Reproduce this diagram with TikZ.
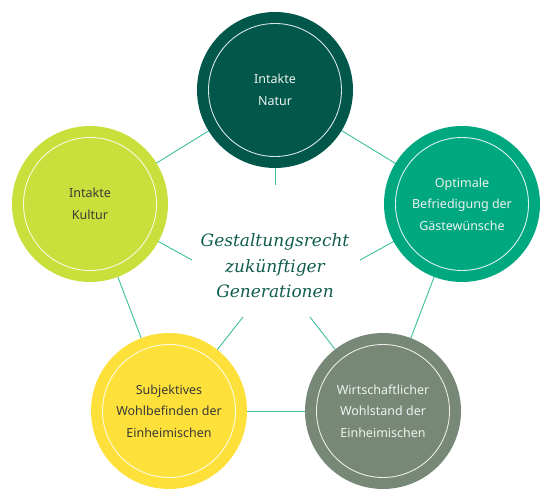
\documentclass[tikz,border=0pt]{standalone}
\usepackage{fontspec}
\setmainfont{Noto Sans}
\newfontfamily\centerfont{DejaVu Serif}
\pgfdeclarelayer{background}
\pgfsetlayers{background,main}
\definecolor{topc}{HTML}{00574A}
\definecolor{rightc}{HTML}{00A880}
\definecolor{leftc}{HTML}{C9E03C}
\definecolor{yellowc}{HTML}{FDE13A}
\definecolor{grayc}{HTML}{778877}
\definecolor{linec}{HTML}{3DBF9F}
\definecolor{centerc}{HTML}{0F5C4D}
\definecolor{darktext}{HTML}{3A3A36}
\definecolor{lighttext}{HTML}{EEF2EF}
\tikzset{
  bubble/.style={circle, minimum size=156pt, inner sep=0pt, align=center,
    font=\fontsize{12.5}{21.5}\selectfont},
  ring/.style={draw=white, draw opacity=0.85, line width=0.9pt},
  link/.style={draw=linec, line width=0.9pt},
}
\begin{document}
\begin{tikzpicture}[x=1pt,y=-1pt]
\useasboundingbox (0,0) rectangle (552,502);
\node[bubble, fill=topc, text=lighttext] (top) at (275,90) {Intakte\\Natur};
\node[bubble, fill=rightc, text=lighttext] (right) at (462,204) {Optimale\\Befriedigung der\\Gästewünsche};
\node[bubble, fill=leftc, text=darktext] (left) at (90,204) {Intakte\\Kultur};
\node[bubble, fill=yellowc, text=darktext] (yellow) at (169,411) {Subjektives\\Wohlbefinden der\\Einheimischen};
\node[bubble, fill=grayc, text=lighttext] (gray) at (383,411) {Wirtschaftlicher\\Wohlstand der\\Einheimischen};
\foreach \n in {top,right,left,yellow,gray}{
  \draw[ring] (\n.center) circle (66.5);
}
\node[text=centerc, align=center, font=\centerfont\itshape\fontsize{17}{25.5}\selectfont] (mid) at (275,266) {Gestaltungsrecht\\zukünftiger\\Generationen};
\coordinate (sT) at (275,185);
\coordinate (sL) at (192,260);
\coordinate (sR) at (360,260);
\coordinate (sY) at (243,317);
\coordinate (sG) at (310,317);
\begin{pgfonlayer}{background}
\draw[link] (top.center) -- (left.center);
\draw[link] (top.center) -- (right.center);
\draw[link] (right.center) -- (gray.center);
\draw[link] (gray.center) -- (yellow.center);
\draw[link] (yellow.center) -- (left.center);
\draw[link] (top.center) -- (sT);
\draw[link] (left.center) -- (sL);
\draw[link] (right.center) -- (sR);
\draw[link] (yellow.center) -- (sY);
\draw[link] (gray.center) -- (sG);
\end{pgfonlayer}
\end{tikzpicture}
\end{document}
